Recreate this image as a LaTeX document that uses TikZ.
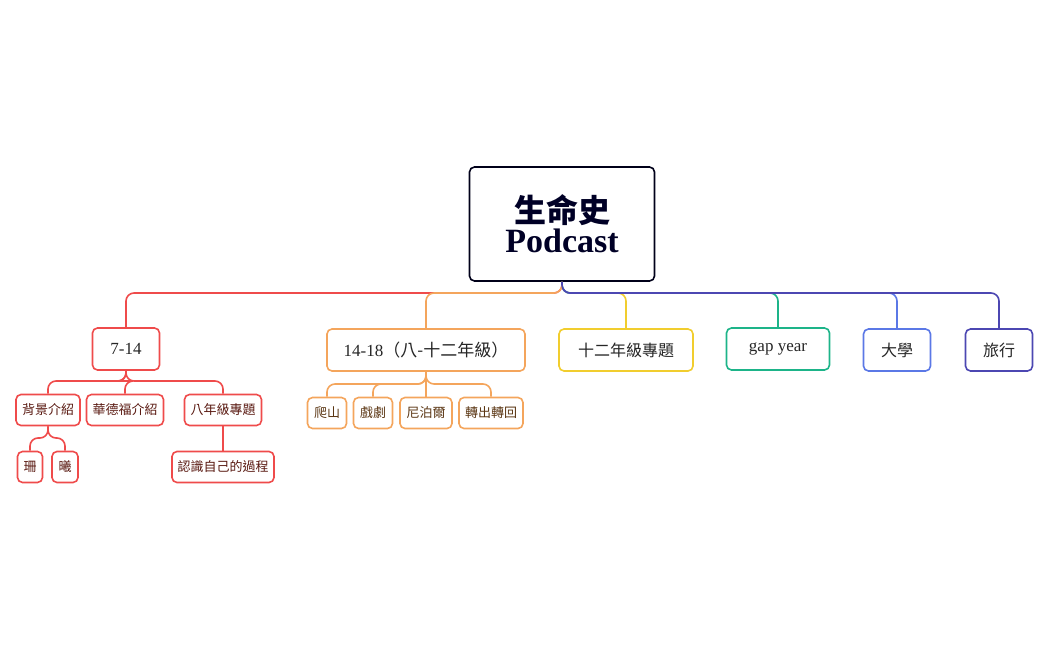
\documentclass[tikz,border=0pt]{standalone}
\usepackage{fontspec}
\setmainfont{Liberation Serif}
\newfontfamily\cjk{Noto Sans CJK TC}
\begin{document}
\begin{tikzpicture}[x=1pt,y=-1pt,
 box/.style={draw,line width=1.6pt,rounded corners=5pt,fill=white,inner sep=0pt},
 lone/.style={box,minimum height=42pt,font=\fontsize{17}{20}\selectfont,text=black!85},
 ltwo/.style={box,minimum height=31pt,font=\cjk\fontsize{13}{15}\selectfont},
 con/.style={line width=1.6pt,rounded corners=8pt}]
\useasboundingbox (0,0) rectangle (1049,650);
\definecolor{cr}{HTML}{EF4B4B}\definecolor{co}{HTML}{F4A55C}\definecolor{cy}{HTML}{F1CD2E}
\definecolor{cg}{HTML}{1DB489}\definecolor{cb}{HTML}{5B78E6}\definecolor{cp}{HTML}{4C47B2}
\definecolor{tr}{HTML}{5A1A12}\definecolor{to}{HTML}{5A3512}
\coordinate (bus) at (0,293);
\coordinate (rbus) at (0,381);
\coordinate (rbus2) at (0,438);
\coordinate (obus) at (0,384);
\node[box,draw=black!90!blue,minimum width=185pt,minimum height=114pt,align=center,text=black!85!blue] (root) at (562,224)
 {{\cjk\bfseries\fontsize{32}{36}\selectfont 生命史}\\[2pt]{\bfseries\fontsize{34}{38}\selectfont Podcast}};
\node[lone,draw=cr,minimum width=67pt] (a) at (126,349) {7-14};
\node[lone,draw=co,minimum width=198pt] (b) at (426,350) {14-18{\cjk（八-十二年級）}};
\node[lone,draw=cy,minimum width=134pt,font=\cjk\fontsize{16}{20}\selectfont] (c) at (626,350) {十二年級專題};
\node[lone,draw=cg,minimum width=103pt] (d) at (778,349) {gap year};
\node[lone,draw=cb,minimum width=67pt,font=\cjk\fontsize{16}{20}\selectfont] (e) at (897,350) {大學};
\node[lone,draw=cp,minimum width=67pt,font=\cjk\fontsize{16}{20}\selectfont] (f) at (999,350) {旅行};
\node[ltwo,draw=cr,text=tr,minimum width=64pt] (a1) at (48,410) {背景介紹};
\node[ltwo,draw=cr,text=tr,minimum width=77pt] (a2) at (125,410) {華德福介紹};
\node[ltwo,draw=cr,text=tr,minimum width=77pt] (a3) at (223,410) {八年級專題};
\node[ltwo,draw=cr,text=tr,minimum width=25pt] (a11) at (30,467) {珊};
\node[ltwo,draw=cr,text=tr,minimum width=26pt] (a12) at (65,467) {曦};
\node[ltwo,draw=cr,text=tr,minimum width=102pt] (a31) at (223,467) {認識自己的過程};
\node[ltwo,draw=co,text=to,minimum width=39pt] (b1) at (327,413) {爬山};
\node[ltwo,draw=co,text=to,minimum width=39pt] (b2) at (373,413) {戲劇};
\node[ltwo,draw=co,text=to,minimum width=52pt] (b3) at (426,413) {尼泊爾};
\node[ltwo,draw=co,text=to,minimum width=64pt] (b4) at (491,413) {轉出轉回};
\begin{scope}[on background layer/.style={}]
\foreach \c/\n in {cy/c,cg/d,cb/e,cr/a,co/b,cp/f}
 \draw[con,\c] (root.south) -- (root.south |- bus) -| (\n.north);
\foreach \n in {a1,a2,a3} \draw[con,cr] (a.south) -- (a.south |- rbus) -| (\n.north);
\foreach \n in {a11,a12} \draw[con,cr] (a1.south) -- (a1.south |- rbus2) -| (\n.north);
\draw[con,cr] (a3.south) -- (a31.north);
\foreach \n in {b1,b2,b3,b4} \draw[con,co] (b.south) -- (b.south |- obus) -| (\n.north);
\end{scope}
\end{tikzpicture}
\end{document}
